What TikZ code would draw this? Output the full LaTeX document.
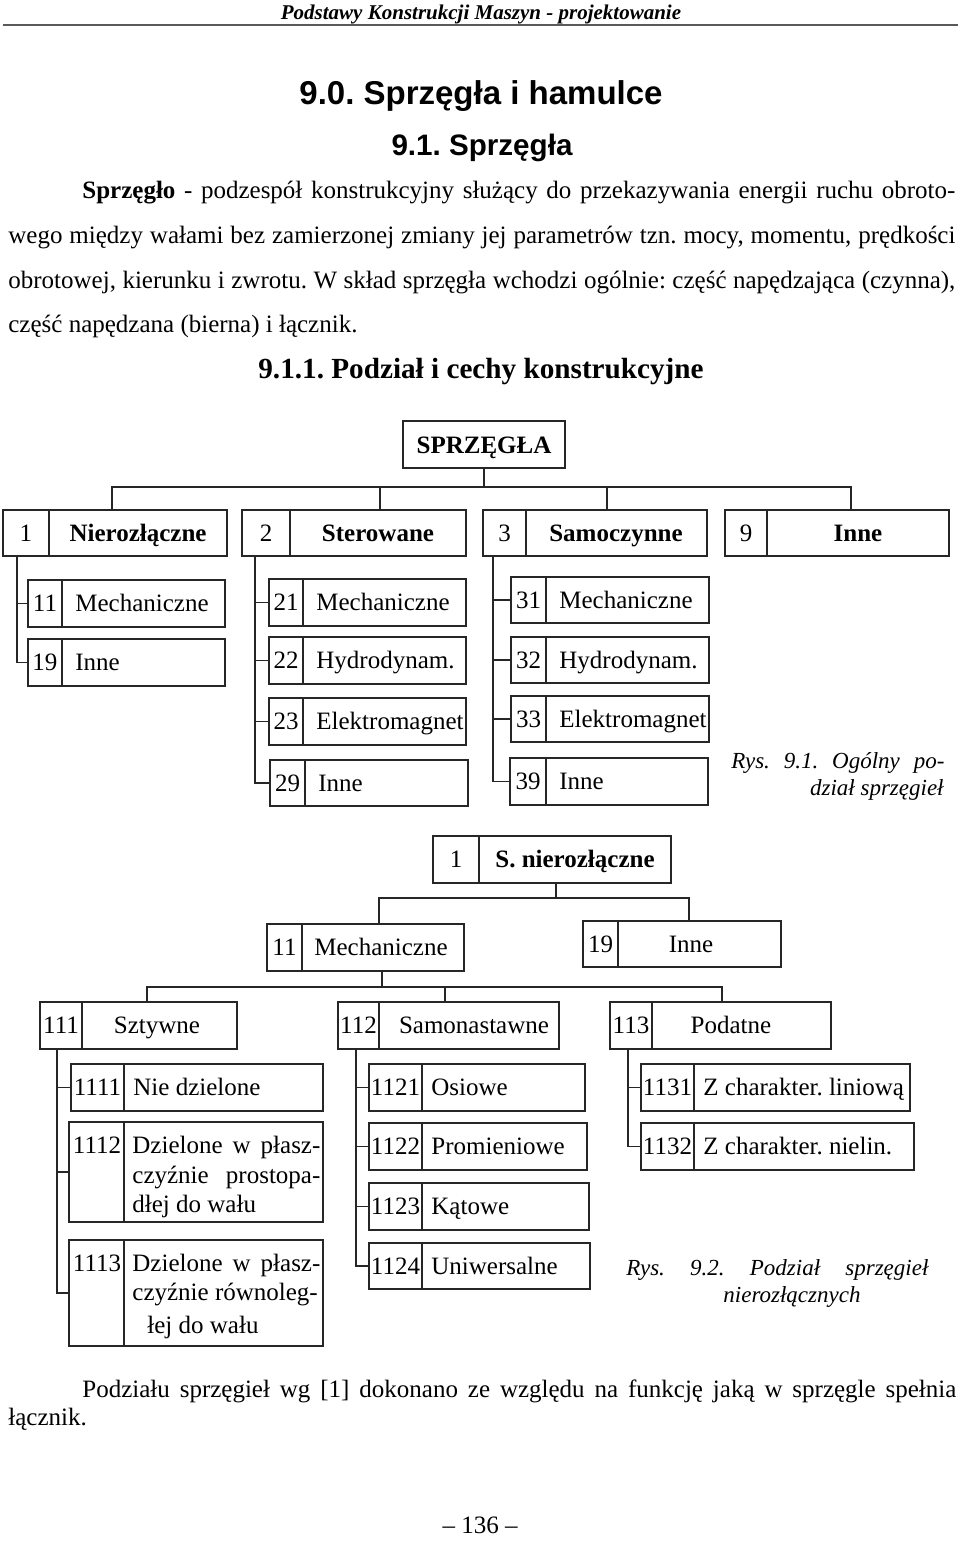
\documentclass[tikz,border=0pt]{standalone}
\usepackage{fontspec}
\usepackage{graphicx}
\setmainfont{Liberation Serif}
\newfontfamily\arialf{Liberation Sans}
\usetikzlibrary{fit}
\frenchspacing
\tikzset{
  ln/.style={draw=black!85, line width=0.9pt},
  boxf/.style={draw=black!85, line width=0.9pt, inner sep=0pt, rectangle},
  txt/.style={inner sep=0pt, font=\fontsize{12.5}{15}\selectfont, anchor=base},
  txtl/.style={txt, anchor=base west},
  captxt/.style={inner sep=0pt, font=\fontsize{11.5}{14}\selectfont\itshape, anchor=base west},
}
\newcommand\frm[6]{\node[boxf, fit={(#2,#3) (#4,#5)}] (#1) {};\draw[ln] (#6,#3) -- (#6,#5);}
\newcommand\boxL[9]{\frm{#1}{#2}{#3}{#4}{#5}{#6}%
  \node[txt] (#1n) at ({(#2+#6)/2},{(#3+#5)/2+8}) {#7};%
  \node[txtl] (#1l) at (#9,{(#3+#5)/2+8}) {#8};}
\newcommand\boxC[9]{\frm{#1}{#2}{#3}{#4}{#5}{#6}%
  \node[txt] (#1n) at ({(#2+#6)/2},{(#3+#5)/2+8}) {#7};%
  \node[txt] (#1l) at (#9,{(#3+#5)/2+8}) {#8};}
\begin{document}
\frenchspacing
\begin{tikzpicture}[x=0.5pt,y=-0.5pt]
\useasboundingbox[fill=white] (0,0) rectangle (960,1563);
% header
\node[inner sep=0pt, anchor=base, font=\fontsize{10.5}{12}\selectfont\bfseries\itshape] (hdr) at (481,19) {Podstawy Konstrukcji Maszyn - projektowanie};
\draw[black!65, line width=1pt] (3,25) -- (958,25);
\node[inner sep=0pt, anchor=base, font={\arialf\bfseries\fontsize{16.5}{20}\selectfont}] (t90) at (481,104) {9.0. Sprzęgła i hamulce};
\node[inner sep=0pt, anchor=base, font={\arialf\bfseries\fontsize{14.8}{18}\selectfont}] (t91) at (482,155) {9.1. Sprzęgła};
% body text
\node[txtl] (p1) at (82,198) {\makebox[436.5pt][s]{\textbf{Sprzęgło} - podzespół konstrukcyjny służący do przekazywania energii ruchu obroto-}};
\node[txtl] (p2) at (8,243) {\makebox[473.5pt][s]{wego między wałami bez zamierzonej zmiany jej parametrów tzn. mocy, momentu, prędkości}};
\node[txtl] (p3) at (8,288) {\makebox[473.5pt][s]{obrotowej, kierunku i zwrotu. W skład sprzęgła wchodzi ogólnie: część napędzająca (czynna),}};
\node[txtl] (p4) at (8,332) {część napędzana (bierna) i łącznik.};
\node[txt, font=\bfseries\fontsize{14.6}{18}\selectfont] (t911) at (481,378) {9.1.1. Podział i cechy konstrukcyjne};

% ---------- diagram 1 ----------
\node[boxf, fit={(403,421) (565,468)}] (spr) {};
\node[txt] (sprl) at (484,453) {\textbf{SPRZĘGŁA}};
\boxC{b1}{3}{510}{227}{556}{49}{1}{\textbf{Nierozłączne}}{138}
\boxC{b2}{242}{510}{466}{556}{290}{2}{\textbf{Sterowane}}{378}
\boxC{b3}{483}{510}{707}{556}{526}{3}{\textbf{Samoczynne}}{616}
\boxC{b4}{725}{510}{949}{556}{767}{9}{\textbf{Inne}}{858}
\draw[ln] (spr.south) -- (484,487);
\draw[ln] (112,0 |- b1.north) -- (112,487) -- (851,487) -- (851,0 |- b4.north);
\draw[ln] (380,487) -- (380,0 |- b2.north);
\draw[ln] (607,487) -- (607,0 |- b3.north);

\boxL{b11}{28}{580}{225}{627}{62}{11}{Mechaniczne}{75}
\boxL{b19}{28}{639}{225}{686}{62}{19}{Inne}{75}
\draw[ln] (17,0 |- b1.south) |- (b19.west);
\draw[ln] (17,0 |- b11.west) -- (b11.west);

\boxL{b21}{269}{579}{466}{626}{303}{21}{Mechaniczne}{316}
\boxL{b22}{269}{637}{466}{684}{303}{22}{Hydrodynam.}{316}
\boxL{b23}{269}{698}{466}{745}{303}{23}{Elektromagnet}{316}
\boxL{b29}{270}{760}{468}{806}{305}{29}{Inne}{318}
\draw[ln] (255,0 |- b2.south) |- (b29.west);
\draw[ln] (255,0 |- b21.west) -- (b21.west);
\draw[ln] (255,0 |- b22.west) -- (b22.west);
\draw[ln] (255,0 |- b23.west) -- (b23.west);

\boxL{b31}{511}{577}{709}{623}{546}{31}{Mechaniczne}{559}
\boxL{b32}{511}{637}{709}{683}{546}{32}{Hydrodynam.}{559}
\boxL{b33}{511}{696}{709}{742}{546}{33}{Elektromagnet}{559}
\boxL{b39}{510}{758}{708}{805}{546}{39}{Inne}{559}
\draw[ln] (493,0 |- b3.south) |- (b39.west);
\draw[ln] (493,0 |- b31.west) -- (b31.west);
\draw[ln] (493,0 |- b32.west) -- (b32.west);
\draw[ln] (493,0 |- b33.west) -- (b33.west);

\node[captxt] (c1a) at (731,768) {\makebox[106.5pt][s]{Rys. 9.1. Ogólny po-}};
\node[captxt, anchor=base east] (c1b) at (944,795) {dział sprzęgieł};

% ---------- diagram 2 ----------
\boxC{n1}{433}{836}{671}{883}{479}{1}{\textbf{S. nierozłączne}}{575}
\boxC{m11}{267}{924}{464}{971}{302}{11}{Mechaniczne}{381}
\boxC{m19}{583}{921}{781}{967}{618}{19}{Inne}{691}
\draw[ln] (556,0 |- n1.south) -- (556,898);
\draw[ln] (379,0 |- m11.north) |- (689,898) -- (689,0 |- m19.north);

\boxC{m111}{40}{1002}{237}{1049}{82}{111}{Sztywne}{157}
\boxC{m112}{338}{1002}{559}{1049}{379}{112}{Samonastawne}{474}
\boxC{m113}{610}{1002}{831}{1049}{652}{113}{Podatne}{731}
\draw[ln] (382,0 |- m11.south) -- (382,987);
\draw[ln] (147,0 |- m111.north) |- (722,987) -- (722,0 |- m113.north);
\draw[ln] (445,987) -- (445,0 |- m112.north);

\boxL{m1111}{71}{1064}{323}{1111}{124}{1111}{Nie dzielone}{133}
\frm{m1112}{69}{1122}{323}{1222}{124}
\node[txt] (m1112n) at (97,1153) {1112};
\node[txtl] (m1112a) at (132,1153) {\makebox[94pt][s]{Dzielone w płasz-}};
\node[txtl] (m1112b) at (132,1183) {\makebox[94pt][s]{czyźnie prostopa-}};
\node[txtl] (m1112c) at (132,1212) {dłej do wału};
\frm{m1113}{69}{1240}{323}{1346}{124}
\node[txt] (m1113n) at (97,1271) {1113};
\node[txtl] (m1113a) at (132,1271) {\makebox[94pt][s]{Dzielone w płasz-}};
\node[txtl] (m1113b) at (132,1300) {czyźnie równoleg-};
\node[txtl] (m1113c) at (147,1333) {łej do wału};
\draw[ln] (57,0 |- m111.south) |- (m1113.west);
\draw[ln] (57,0 |- m1111.west) -- (m1111.west);
\draw[ln] (57,0 |- m1112.west) -- (m1112.west);

\boxL{m1121}{369}{1064}{585}{1111}{422}{1121}{Osiowe}{431}
\boxL{m1122}{369}{1123}{587}{1170}{422}{1122}{Promieniowe}{431}
\boxL{m1123}{369}{1183}{589}{1230}{422}{1123}{Kątowe}{431}
\boxL{m1124}{369}{1243}{590}{1289}{422}{1124}{Uniwersalne}{431}
\draw[ln] (356,0 |- m112.south) |- (m1124.west);
\draw[ln] (356,0 |- m1121.west) -- (m1121.west);
\draw[ln] (356,0 |- m1122.west) -- (m1122.west);
\draw[ln] (356,0 |- m1123.west) -- (m1123.west);

\boxL{m1131}{641}{1064}{910}{1111}{694}{1131}{Z charakter. liniową}{703}
\boxL{m1132}{641}{1123}{914}{1170}{694}{1132}{Z charakter. nielin.}{703}
\draw[ln] (628,0 |- m113.south) |- (m1132.west);
\draw[ln] (628,0 |- m1131.west) -- (m1131.west);

\node[captxt] (c2a) at (626,1275) {\makebox[151pt][s]{Rys. 9.2. Podział sprzęgieł}};
\node[captxt, anchor=base] (c2b) at (792,1302) {nierozłącznych};

% footer
\node[txtl] (f1) at (82,1397) {\makebox[437pt][s]{Podziału sprzęgieł wg [1] dokonano ze względu na funkcję jaką w sprzęgle spełnia}};
\node[txtl] (f2) at (8,1425) {łącznik.};
\node[txt] (pg) at (480,1533) {– 136 –};
\end{tikzpicture}
\end{document}
